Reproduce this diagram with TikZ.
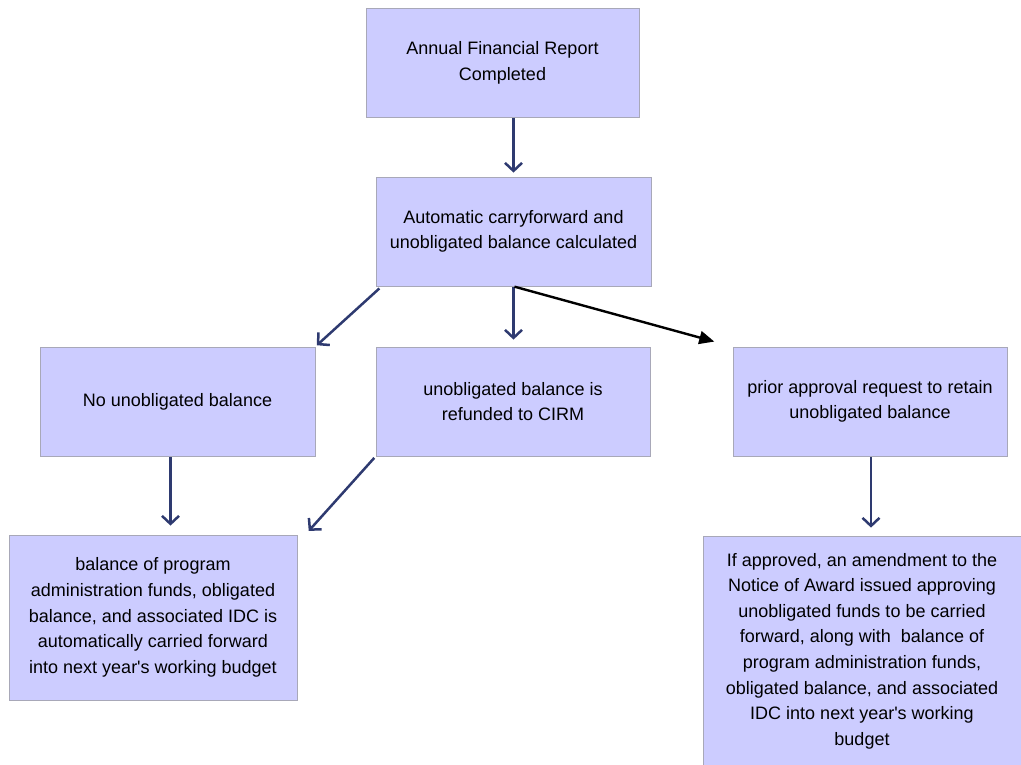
\documentclass[tikz,border=0pt]{standalone}
\usepackage{fontspec}
\setmainfont{Liberation Sans}
\usepackage{tikz}
\usetikzlibrary{arrows.meta}
\definecolor{boxfill}{HTML}{CCCCFF}
\definecolor{boxline}{HTML}{A8A8B8}
\definecolor{navy}{HTML}{2E3A70}
\tikzstyle{step box}=[rectangle,draw=boxline,fill=boxfill,line width=0.8pt,inner sep=0mm,align=center,font=\fontsize{18}{25.6}\selectfont]
\tikzstyle{flow}=[navy,line width=2.5pt,-{Straight Barb[length=8pt,width=17pt,line width=2.5pt]}]
\tikzstyle{ask}=[black,line width=2.4pt,-{Triangle[length=15pt,width=13pt]}]
\tikzset{every picture/.style={
    x=1pt,y=-1pt
  }
}

\begin{document}
\begin{tikzpicture}
          \useasboundingbox (0,0) rectangle (1021,765);
          \node[step box,minimum width=273pt,minimum height=109pt] at (502.5,63) (report) {Annual Financial Report\\Completed};
          \node[step box,minimum width=275pt,minimum height=109pt] at (513.5,231.5) (carry) {Automatic carryforward and\\unobligated balance calculated};
          \node[step box,minimum width=275pt,minimum height=109pt] at (177.5,401.5) (noub) {No unobligated balance};
          \node[step box,minimum width=274pt,minimum height=109pt] at (513,401.5) (refund) {unobligated balance is\\refunded to CIRM};
          \node[step box,minimum width=274pt,minimum height=109pt] at (870,401.5) (prior) {prior approval request to retain\\unobligated balance};
          \node[step box,minimum width=288pt,minimum height=165pt] at (153,617.5) (fwd) {balance of program\\administration funds, obligated\\balance, and associated IDC is\\automatically carried forward\\into next year\textquotesingle s working budget};
          \node[step box,minimum width=318pt,minimum height=230pt] at (862,651) (approved) {If approved, an amendment to the\\Notice of Award issued approving\\unobligated funds to be carried\\forward, along with\ \ balance of\\program administration funds,\\obligated balance, and associated\\IDC into next year\textquotesingle s working\\budget};
          \draw [flow, shorten >=4pt] (carry.north |- report.south) -- (carry.north);
          \draw [flow, shorten <=3pt, shorten >=2pt] ([xshift=6pt]carry.south west) -- (noub.north east);
          \draw [flow, shorten <=1pt, shorten >=7pt] (carry.south) -- (carry.south |- refund.north);
          \draw [ask, shorten <=1pt, shorten >=19pt] (carry.south) -- (prior.north west);
          \draw [flow, shorten <=1pt, shorten >=9pt] ([xshift=-7pt]noub.south) -- ([xshift=-7pt]noub.south |- fwd.north);
          \draw [flow, shorten <=2pt, shorten >=5pt] (refund.south west) -- ([xshift=8pt]fwd.north east);
          \draw [flow, shorten <=1pt, shorten >=8pt] ([xshift=1pt]prior.south) -- ([xshift=1pt]prior.south |- approved.north);
        \end{tikzpicture}
\end{document}
